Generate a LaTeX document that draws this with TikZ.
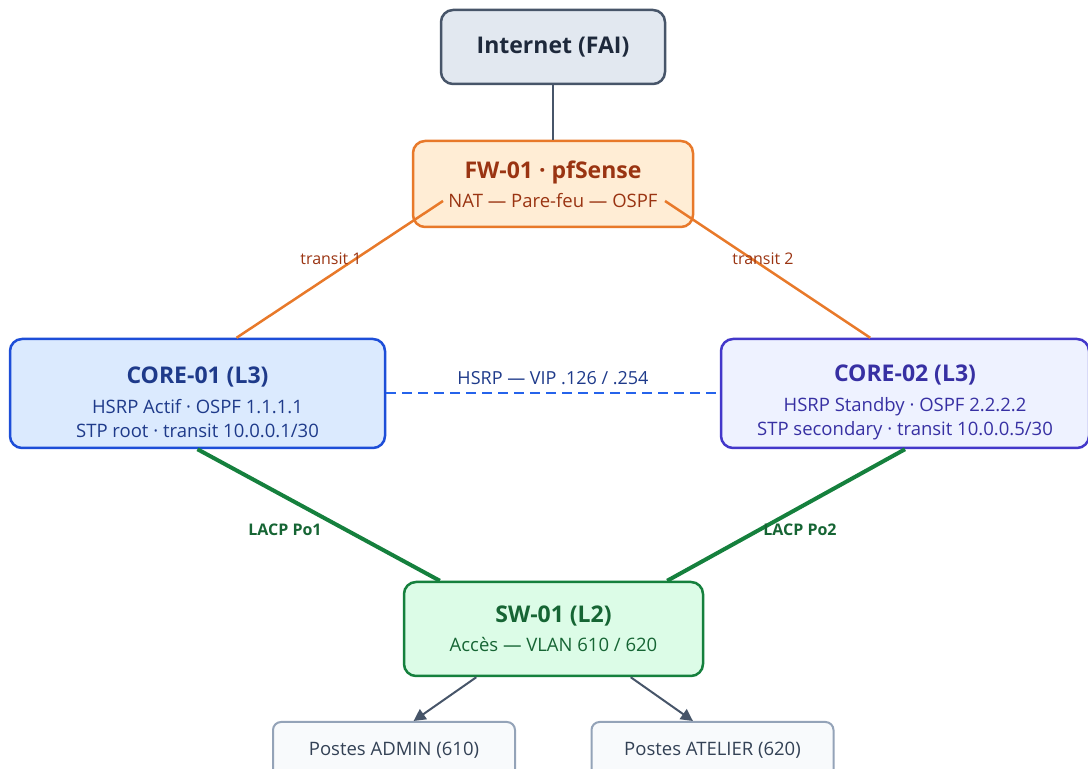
\documentclass[tikz,border=0pt]{standalone}
\usepackage{fontspec}
\setmainfont{Open Sans}
\usetikzlibrary{arrows.meta}
\definecolor{ispfill}{HTML}{E2E8F0}
\definecolor{ispline}{HTML}{475569}
\definecolor{isptext}{HTML}{1E293B}
\definecolor{fwfill}{HTML}{FFEDD5}
\definecolor{fwline}{HTML}{E8792A}
\definecolor{fwtext}{HTML}{9A3412}
\definecolor{coreafill}{HTML}{DBEAFE}
\definecolor{corealine}{HTML}{1D4ED8}
\definecolor{coreatext}{HTML}{1E3A8A}
\definecolor{corebfill}{HTML}{EEF2FF}
\definecolor{corebline}{HTML}{4338CA}
\definecolor{corebtext}{HTML}{3730A3}
\definecolor{swfill}{HTML}{DCFCE7}
\definecolor{swline}{HTML}{15803D}
\definecolor{swtext}{HTML}{166534}
\definecolor{pcfill}{HTML}{F8FAFC}
\definecolor{pcline}{HTML}{94A3B8}
\definecolor{pctext}{HTML}{334155}
\definecolor{hsrpline}{HTML}{2563EB}
\newcommand{\ttlfont}{\fontsize{23}{26}\selectfont\bfseries}
\newcommand{\toppad}{\rule{0pt}{34pt}}
\tikzset{
    devbox/.style={draw, rounded corners=12pt, line width=2.5pt,
                   align=center, font=\fontsize{18.5}{24}\selectfont,
                   fill=#1},
    pcbox/.style={draw=pcline, rounded corners=8pt, line width=2pt,
                  fill=#1, text=pctext, minimum width=242pt,
                  minimum height=56pt, font=\fontsize{18.5}{20}\selectfont},
    linklbl/.style={font=\fontsize{16}{18}\selectfont, text=#1},
}
\begin{document}
\begin{tikzpicture}[x=1pt, y=1pt,
    lnk/.style={line width=2pt, ispline},
    transit/.style={line width=2.5pt, fwline},
    lacp/.style={line width=4pt, swline},
    arr/.style={-{Triangle[length=12pt, width=12pt]}, line width=2pt, ispline},
]
    \useasboundingbox (0,0) rectangle (1088,769);
    \clip (0,0) rectangle (1088,769);
    % devices
    \node[devbox=ispfill, draw=ispline, text=isptext, minimum width=224pt,
          minimum height=74pt] (isp) at (553,722) {{\ttlfont Internet (FAI)}};
    \node[devbox=fwfill, draw=fwline, text=fwtext, minimum width=280pt,
          minimum height=86pt] (fw) at (553,585)
          {{\ttlfont FW-01 · pfSense}\\[5pt] NAT — Pare-feu — OSPF};
    \node[devbox=coreafill, draw=corealine, text=coreatext, minimum width=375pt,
          minimum height=109pt] (core1) at (197.5,375.5)
          {{\ttlfont\toppad CORE-01 (L3)}\\[6pt] HSRP Actif · OSPF 1.1.1.1\\ STP root · transit 10.0.0.1/30};
    \node[devbox=corebfill, draw=corebline, text=corebtext, minimum width=368pt,
          minimum height=109pt] (core2) at (905,375.5)
          {{\ttlfont\toppad CORE-02 (L3)}\\[6pt] HSRP Standby · OSPF 2.2.2.2\\ STP secondary · transit 10.0.0.5/30};
    \node[devbox=swfill, draw=swline, text=swtext, minimum width=299pt,
          minimum height=94pt] (sw) at (553.5,140)
          {{\ttlfont SW-01 (L2)}\\[5pt] Accès — VLAN 610 / 620};
    \node[pcbox=pcfill] (admin) at (394,19) {Postes ADMIN (610)};
    \node[pcbox=pcfill] (atelier) at (712.5,19) {Postes ATELIER (620)};
    % links
    \coordinate (fwL) at (443,568);
    \coordinate (fwR) at (665,568);
    \draw[lnk] (isp) -- (fw);
    \draw[transit] (core1.55) -- (fwL);
    \draw[transit] (core2.122) -- (fwR);
    \node[linklbl=fwtext] (lblT1) at (331,510) {transit 1};
    \node[linklbl=fwtext] (lblT2) at (763,510) {transit 2};
    \draw[hsrpline, line width=2pt, dash pattern=on 10pt off 6pt] (core1) -- (core2)
        node[midway, above=4pt, linklbl=coreatext, font=\fontsize{18}{20}\selectfont] (lblHsrp) {HSRP — VIP .126 / .254};
    \draw[lacp] (core1.south) -- (sw.157);
    \draw[lacp] (core2.south) -- (sw.23);
    \node[linklbl=swtext, font=\fontsize{16}{18}\selectfont\bfseries] (lblPo1) at (285,239) {LACP Po1};
    \node[linklbl=swtext, font=\fontsize{16}{18}\selectfont\bfseries] (lblPo2) at (800,239) {LACP Po2};
    \draw[arr] (sw.212) -- (admin.56);
    \draw[arr] (sw.328) -- (atelier.124);
\end{tikzpicture}
\end{document}
